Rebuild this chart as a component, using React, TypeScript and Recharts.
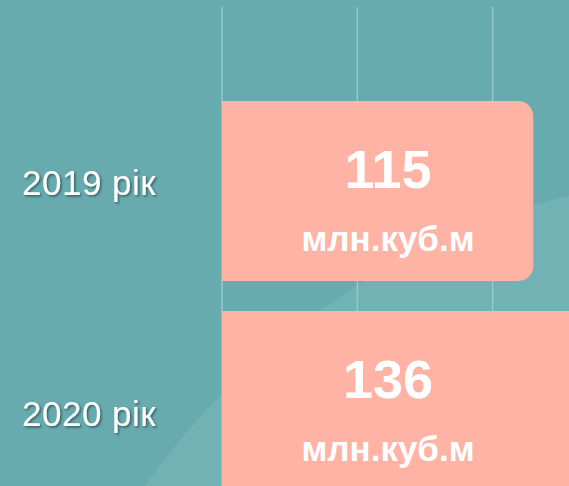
import { BarChart, Bar, XAxis, YAxis, CartesianGrid, LabelList } from 'recharts';

const years = ['2019 рік', '2020 рік'];
const volumes = [115, 136];
const unit = 'млн.куб.м';
const xTicks = [0, 50, 100, 150];

const data = years.map((year, i) => ({ year, volume: volumes[i] }));

// label nudges to follow the original slide layout
const tickShift = [4, 25];

function YearTick({ y, payload, index }: any) {
  return (
    <text
      x={22}
      y={y + tickShift[index]}
      textAnchor="start"
      fill="#ffffff"
      fontSize={35}
      letterSpacing={0.5}
      fontFamily="'Liberation Sans', Arial, sans-serif"
      filter="url(#txtShadow)"
    >
      {payload.value}
    </text>
  );
}

function ValueLabel({ x, y, value }: any) {
  const cx = x + 166;
  return (
    <g fill="#ffffff" fontFamily="'Liberation Sans', Arial, sans-serif" fontWeight="bold" textAnchor="middle">
      <text x={cx} y={y + 87} fontSize={54}>{value}</text>
      <text x={cx} y={y + 150} fontSize={35}>{unit}</text>
    </g>
  );
}

export default function App() {
  return (
    <div style={{ position: 'fixed', left: 0, top: 0, width: 569, height: 486, overflow: 'hidden', background: '#67abaf' }}>
      <div
        style={{
          position: 'absolute',
          left: 750 - 742,
          top: 915 - 742,
          width: 742 * 2,
          height: 742 * 2,
          borderRadius: '50%',
          background: '#73b2b4',
        }}
      />
      <div style={{ position: 'absolute', left: 0, top: 0 }}>
        <BarChart
          width={640}
          height={506}
          data={data}
          layout="vertical"
          margin={{ top: 7, right: 12, left: 0, bottom: 0 }}
        >
          <defs>
            <filter id="txtShadow" x="-10%" y="-20%" width="130%" height="150%">
              <feDropShadow dx={1.5} dy={1.5} stdDeviation={1} floodColor="#000" floodOpacity={0.45} />
            </filter>
          </defs>
          <CartesianGrid horizontal={false} stroke="#95c8c8" strokeWidth={1.5} />
          <XAxis type="number" domain={[0, 150]} ticks={xTicks} hide />
          <YAxis
            type="category"
            dataKey="year"
            width={222}
            axisLine={false}
            tickLine={false}
            padding={{ top: 79, bottom: 0 }}
            tick={<YearTick />}
          />
          <Bar dataKey="volume" fill="#feb3a5" barSize={180} radius={[0, 15, 15, 0]} isAnimationActive={false}>
            <LabelList dataKey="volume" content={<ValueLabel />} />
          </Bar>
        </BarChart>
      </div>
    </div>
  );
}
